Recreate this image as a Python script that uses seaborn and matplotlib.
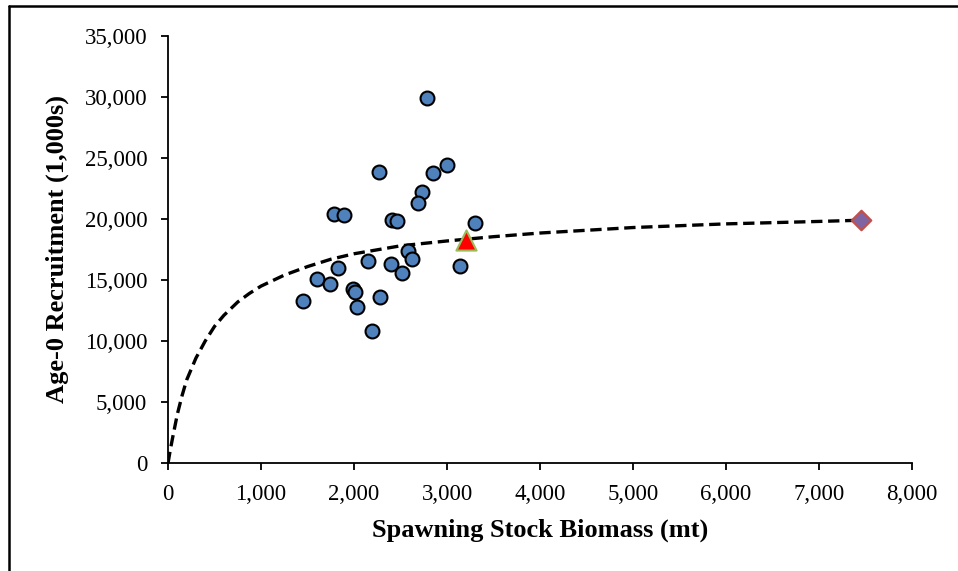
import matplotlib
matplotlib.use("Agg")
import matplotlib.pyplot as plt
from matplotlib.lines import Line2D
from matplotlib.ticker import FuncFormatter
import seaborn as sns
import pandas as pd

# Observed stock-recruitment points
ssb_obs = [2782, 2266, 2853, 2997, 2728, 2688, 1785, 1889, 2405, 2466, 3304,
           2584, 2620, 2154, 1825, 2395, 2516, 1599, 1742, 3143, 1986, 2008,
           1455, 2280, 2032, 2194]
rec_obs = [29890, 23850, 23800, 24450, 22190, 21340, 20390, 20350, 19940, 19810,
           19700, 17380, 16750, 16530, 16010, 16290, 15550, 15060, 14670, 16120,
           14260, 14020, 13280, 13580, 12760, 10820]

# Highlighted points
ssb_tri = [3201]
rec_tri = [18250]
ssb_dia = [7448]
rec_dia = [19890]

# Fitted curve
ssb_curve = [0, 25, 50, 100, 150, 200, 300, 400, 500, 600, 750, 875, 1000,
             1250, 1500, 1750, 2000, 2500, 3000, 3500, 4000, 5000, 6000, 7000,
             7448]
rec_curve = [0, 1100, 2100, 4000, 5500, 6800, 8600, 10000, 11200, 12100, 13200,
             13900, 14500, 15400, 16100, 16700, 17150, 17800, 18200, 18550,
             18850, 19300, 19600, 19800, 19900]

x_ticks = [0, 1000, 2000, 3000, 4000, 5000, 6000, 7000, 8000]
y_ticks = [0, 5000, 10000, 15000, 20000, 25000, 30000, 35000]

sns.set_theme(style="white")
plt.rcParams['font.family'] = ['Liberation Serif', 'DejaVu Serif']

fig = plt.figure(figsize=(9.58, 5.71), dpi=100)
ax = fig.add_axes([0.1754, 0.1891, 0.952 - 0.1754, 0.937 - 0.1891])

curve_df = pd.DataFrame({"ssb": ssb_curve, "rec": rec_curve})
sns.lineplot(data=curve_df, x="ssb", y="rec", ax=ax, color="black",
             linewidth=2.4, linestyle=(0, (3.4, 1.7)), zorder=2)

obs_df = pd.DataFrame({"ssb": ssb_obs, "rec": rec_obs})
sns.scatterplot(data=obs_df, x="ssb", y="rec", ax=ax, s=100, color="#4F81BD",
                edgecolor="black", linewidth=1.5, zorder=3)

tri_df = pd.DataFrame({"ssb": ssb_tri, "rec": rec_tri})
sns.scatterplot(data=tri_df, x="ssb", y="rec", ax=ax, marker="^", s=210,
                color="#FF0000", edgecolor="#9BBB59", linewidth=1.5, zorder=4)

dia_df = pd.DataFrame({"ssb": ssb_dia, "rec": rec_dia})
sns.scatterplot(data=dia_df, x="ssb", y="rec", ax=ax, marker="D", s=100,
                color="#8064A2", edgecolor="#C0504D", linewidth=1.5, zorder=4)

ax.set_xlim(0, 8000)
ax.set_ylim(0, 35000)
ax.set_xticks(x_ticks)
ax.set_yticks(y_ticks)
fmt = FuncFormatter(lambda v, p: f"{int(v):,}")
ax.xaxis.set_major_formatter(fmt)
ax.yaxis.set_major_formatter(fmt)
ax.tick_params(axis="both", direction="out", length=5, width=1.3,
               colors="black", labelsize=16.5, bottom=True, left=True)
ax.tick_params(axis="y", pad=10)
ax.tick_params(axis="x", pad=10)

for side in ["top", "right"]:
    ax.spines[side].set_visible(False)
for side in ["left", "bottom"]:
    ax.spines[side].set_color("black")
    ax.spines[side].set_linewidth(1.3)

ax.set_xlabel("Spawning Stock Biomass (mt)", fontsize=19, fontweight="bold",
              color="black", labelpad=10)
ax.set_ylabel("Age-0 Recruitment (1,000s)", fontsize=19, fontweight="bold",
              color="black", labelpad=11)
ax.grid(False)

# Outer frame lines (top and left visible in the reference)
fig.add_artist(Line2D([9 / 958, 1.0], [1 - 6 / 571, 1 - 6 / 571],
                      transform=fig.transFigure, color="black", linewidth=1.8))
fig.add_artist(Line2D([9 / 958, 9 / 958], [0, 1 - 6 / 571],
                      transform=fig.transFigure, color="black", linewidth=1.8))

fig.savefig("out.png", dpi=100)
